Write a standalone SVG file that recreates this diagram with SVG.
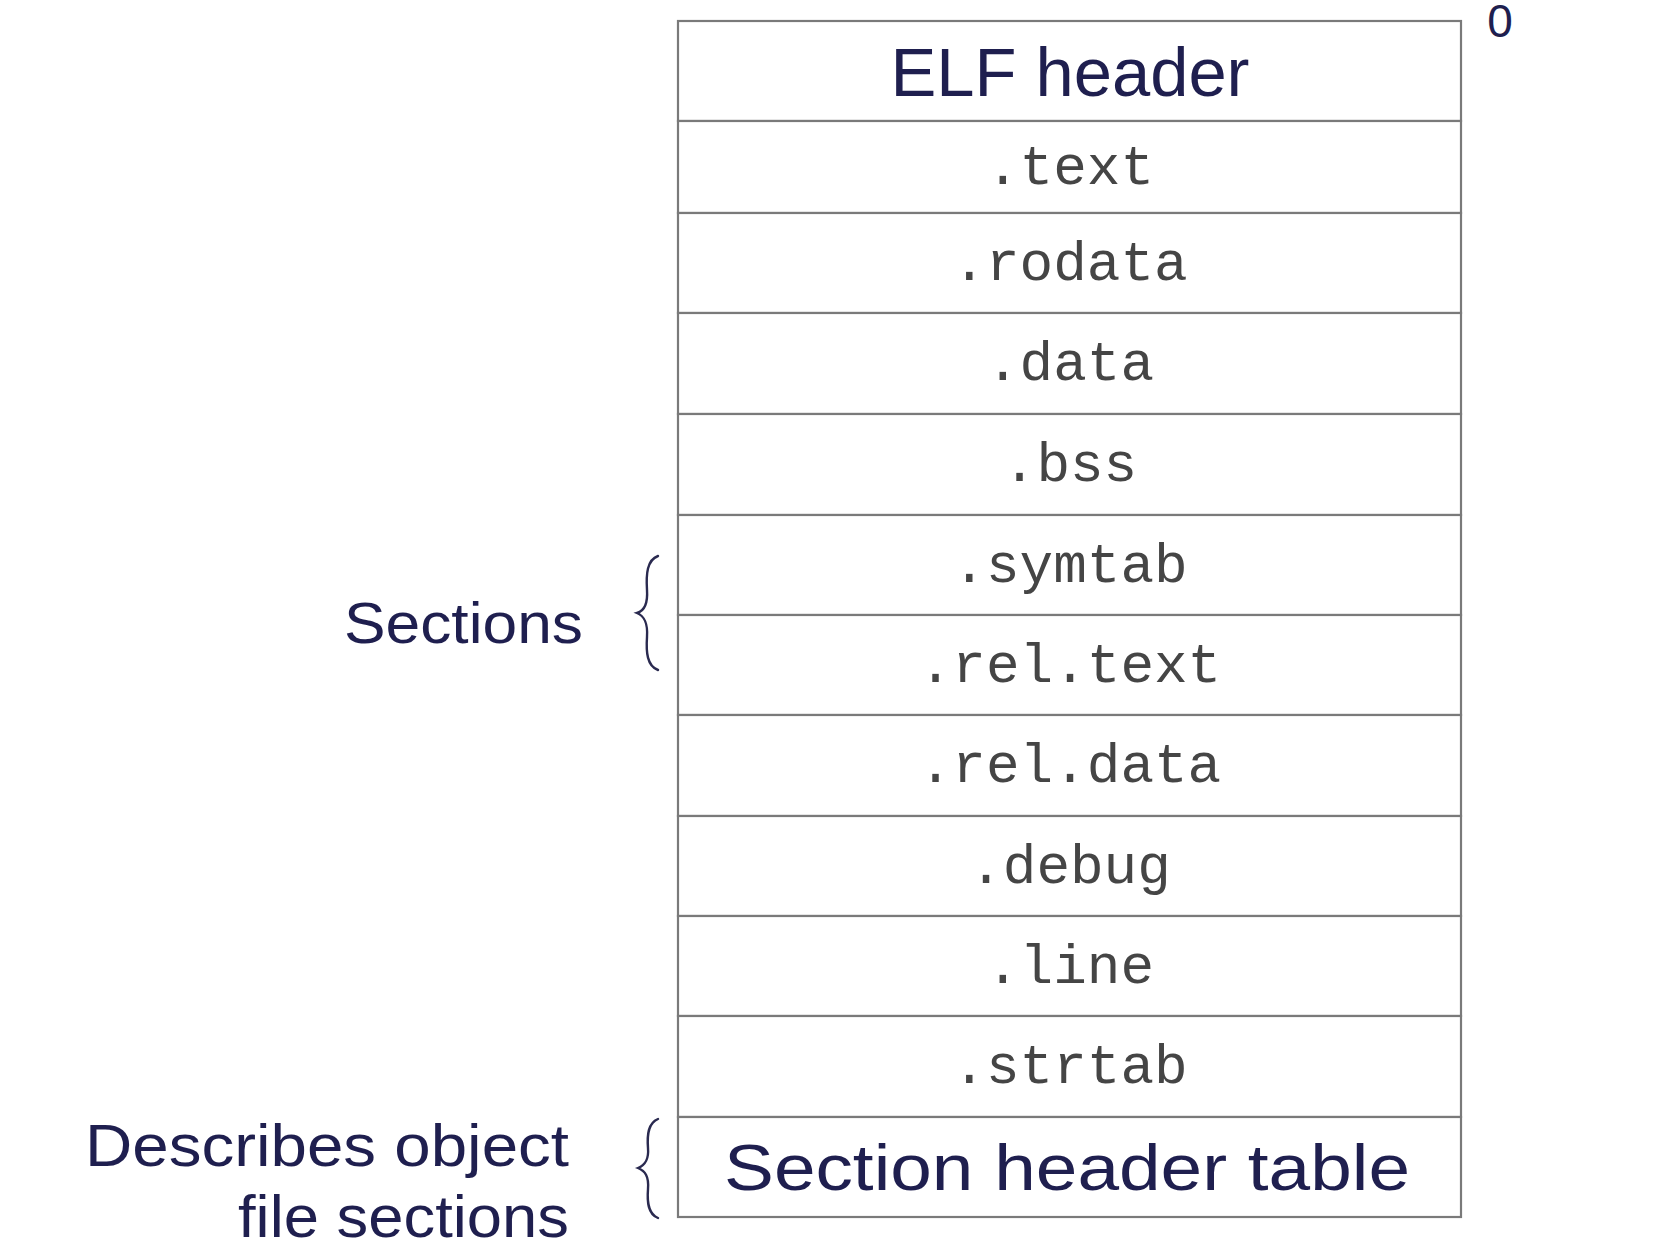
<svg xmlns="http://www.w3.org/2000/svg" width="1662" height="1258" viewBox="0 0 1662 1258">
<style>
.cell{fill:#ffffff;stroke:#7a7a7a;stroke-width:2.2}
.mono{font-family:"Liberation Mono","DejaVu Sans Mono",monospace;font-size:56px;fill:#454545;text-anchor:middle}
.sans{font-family:"Liberation Sans","DejaVu Sans",sans-serif;fill:#1f1f4f}
.brace{fill:none;stroke:#2a2a50;stroke-width:2.4;stroke-linecap:round}
</style>
<rect width="1662" height="1258" fill="#ffffff"/>
<g id="elf-header"><rect class="cell" x="678" y="21" width="783" height="100"/><text class="sans" x="1070" y="96" font-size="68" text-anchor="middle" textLength="359" lengthAdjust="spacingAndGlyphs">ELF header</text></g>
<g id="text"><rect class="cell" x="678" y="121" width="783" height="92"/><text class="mono" x="1070" y="184">.text</text></g>
<g id="rodata"><rect class="cell" x="678" y="213" width="783" height="100"/><text class="mono" x="1070" y="280">.rodata</text></g>
<g id="data"><rect class="cell" x="678" y="313" width="783" height="101"/><text class="mono" x="1070" y="380">.data</text></g>
<g id="bss"><rect class="cell" x="678" y="414" width="783" height="101"/><text class="mono" x="1070" y="481">.bss</text></g>
<g id="symtab"><rect class="cell" x="678" y="515" width="783" height="100"/><text class="mono" x="1070" y="582">.symtab</text></g>
<g id="rel-text"><rect class="cell" x="678" y="615" width="783" height="100"/><text class="mono" x="1070" y="682">.rel.text</text></g>
<g id="rel-data"><rect class="cell" x="678" y="715" width="783" height="101"/><text class="mono" x="1070" y="782">.rel.data</text></g>
<g id="debug"><rect class="cell" x="678" y="816" width="783" height="100"/><text class="mono" x="1070" y="883">.debug</text></g>
<g id="line"><rect class="cell" x="678" y="916" width="783" height="100"/><text class="mono" x="1070" y="983">.line</text></g>
<g id="strtab"><rect class="cell" x="678" y="1016" width="783" height="101"/><text class="mono" x="1070" y="1083">.strtab</text></g>
<g id="section-header-table"><rect class="cell" x="678" y="1117" width="783" height="100"/><text class="sans" x="1067" y="1190" font-size="65" text-anchor="middle" textLength="686" lengthAdjust="spacingAndGlyphs">Section header table</text></g>
<g id="offset-zero"><text class="sans" x="1500" y="37" font-size="46" text-anchor="middle">0</text></g>
<g id="sections-label"><text class="sans" x="583" y="643" font-size="57" text-anchor="end" textLength="239" lengthAdjust="spacingAndGlyphs">Sections</text><path class="brace" d="M658,556 C647,560 646,574 647,590 C648,605 644,611 637,613 C644,616 648,622 647,637 C646,652 647,666 658,670"/></g>
<g id="describes-label"><text class="sans" font-size="60" text-anchor="end"><tspan x="569" y="1166" textLength="484" lengthAdjust="spacingAndGlyphs">Describes object</tspan><tspan x="569" y="1237" textLength="331" lengthAdjust="spacingAndGlyphs">file sections</tspan></text><path class="brace" d="M658,1119 C648,1123 647,1135 648,1148 C649,1160 645,1165 638,1168 C645,1171 649,1176 648,1189 C647,1202 648,1214 658,1218"/></g>
<g id="connectors"></g>
</svg>
